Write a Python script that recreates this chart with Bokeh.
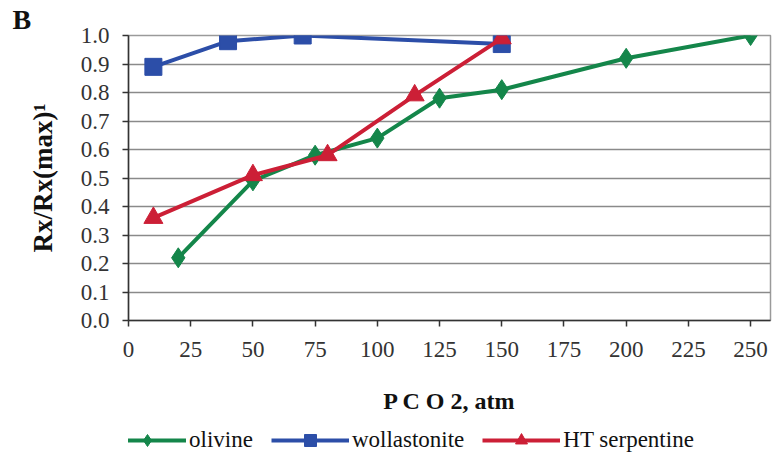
from bokeh.plotting import figure
from bokeh.layouts import column
from bokeh.models import (Legend, LegendItem, FixedTicker, Range1d,
                          CustomJSTickFormatter)
from bokeh.embed import file_html
from bokeh.resources import INLINE

# Relative reaction extent versus CO2 pressure
olivine_x = [20, 50, 75, 100, 125, 150, 200, 250]
olivine_y = [0.22, 0.49, 0.58, 0.64, 0.78, 0.81, 0.92, 1.0]

wollastonite_x = [10, 40, 70, 150]
wollastonite_y = [0.89, 0.98, 1.0, 0.97]

serpentine_x = [10, 50, 80, 115, 150]
serpentine_y = [0.36, 0.51, 0.58, 0.79, 0.99]

x_ticks = [0, 25, 50, 75, 100, 125, 150, 175, 200, 225, 250]
y_ticks = [0.0, 0.1, 0.2, 0.3, 0.4, 0.5, 0.6, 0.7, 0.8, 0.9, 1.0]

GREEN = "#14864a"
BLUE = "#2c4ea8"
RED = "#cc1f36"
SERIF = "Liberation Serif"

STYLES = [
    ("olivine", olivine_x, olivine_y, GREEN, "diamond", 20),
    ("wollastonite", wollastonite_x, wollastonite_y, BLUE, "square", 17),
    ("HT serpentine", serpentine_x, serpentine_y, RED, "triangle", 19),
]

p = figure(frame_width=642, frame_height=285, output_backend="svg",
           toolbar_location=None,
           x_range=Range1d(0, 258), y_range=Range1d(0, 1.0),
           min_border_left=128, min_border_right=4, min_border_top=35,
           min_border_bottom=100, title="B")
p.title.text_font = SERIF
p.title.text_font_style = "bold"
p.title.text_font_size = "28px"
p.title.text_color = "#111111"
p.title.align = "left"
p.title.offset = -116
p.title.standoff = 2

p.background_fill_color = "white"
p.border_fill_color = "white"
p.outline_line_color = "#9a9a9a"
p.outline_line_width = 1.5

p.xgrid.grid_line_color = None
p.ygrid.grid_line_color = "#8a8a8a"
p.ygrid.grid_line_width = 1.6
p.ygrid.ticker = FixedTicker(ticks=y_ticks)

p.xaxis.ticker = FixedTicker(ticks=x_ticks)
p.yaxis.ticker = FixedTicker(ticks=y_ticks)
p.yaxis.formatter = CustomJSTickFormatter(code="return tick.toFixed(1);")

for ax in (p.xaxis[0], p.yaxis[0]):
    ax.axis_line_color = "#333333"
    ax.axis_line_width = 1.5
    ax.major_tick_line_color = "#333333"
    ax.major_tick_line_width = 1.5
    ax.major_tick_in = 0
    ax.major_tick_out = 6
    ax.minor_tick_line_color = None
    ax.major_label_text_font = SERIF
    ax.major_label_text_font_size = "23px"
    ax.major_label_text_color = "#333333"
    ax.axis_label_text_font = SERIF
    ax.axis_label_text_font_style = "bold"
    ax.axis_label_text_color = "#111111"

p.xaxis.major_label_standoff = 15
p.yaxis.major_label_standoff = 13
p.xaxis.axis_label = "P C O 2, atm"
p.xaxis.axis_label_text_font_size = "24px"
p.xaxis.axis_label_standoff = 28
p.yaxis.axis_label = "Rx/Rx(max)¹"
p.yaxis.axis_label_text_font_size = "27px"
p.yaxis.axis_label_standoff = 20

for name, xs, ys, color, marker, size in STYLES:
    p.line(xs, ys, line_color=color, line_width=4)
    p.scatter(xs, ys, marker=marker, size=size, fill_color=color,
              line_color=color)

# Legend strip under the chart; its glyphs share the data but sit outside
# the strip's visible range, so only the legend entries are drawn.
leg = figure(width=p.frame_width + 132, height=36, output_backend="svg",
             toolbar_location=None, x_axis_type=None, y_axis_type=None,
             x_range=Range1d(1000, 1001), y_range=Range1d(1000, 1001),
             min_border=0)
leg.outline_line_color = None
leg.xgrid.grid_line_color = None
leg.ygrid.grid_line_color = None
items = []
for name, xs, ys, color, marker, size in STYLES:
    ln = leg.line(xs, ys, line_color=color, line_width=4)
    mk = leg.scatter(xs, ys, marker=marker, size=size, fill_color=color,
                     line_color=color)
    items.append(LegendItem(label=name, renderers=[ln, mk]))

legend = Legend(items=items, orientation="horizontal", location=(-20, 1),
                label_text_font=SERIF, label_text_font_size="23px",
                label_text_color="#111111", glyph_width=78, glyph_height=30,
                spacing=18, label_standoff=3, padding=0, margin=0,
                border_line_color=None, background_fill_alpha=0)
leg.add_layout(legend)

open("out.html", "w").write(file_html(column(p, leg, spacing=0), INLINE))
